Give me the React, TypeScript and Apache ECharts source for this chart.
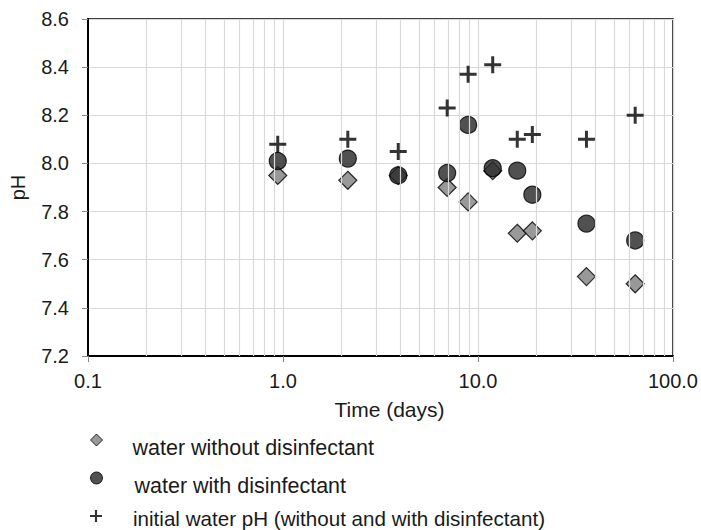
import React, { useEffect, useRef } from "react";
import * as echarts from "echarts";

const days = [0.94, 2.15, 3.9, 6.95, 8.9, 11.9, 15.9, 19, 36, 64];
const withoutDisinfectant = [7.95, 7.93, 7.95, 7.9, 7.84, 7.97, 7.71, 7.72, 7.53, 7.5];
const withDisinfectant = [8.01, 8.02, 7.95, 7.96, 8.16, 7.98, 7.97, 7.87, 7.75, 7.68];
const initialPH = [8.08, 8.1, 8.05, 8.23, 8.37, 8.41, 8.1, 8.12, 8.1, 8.2];
const minorGridX = [0.2, 0.3, 0.4, 0.5, 0.6, 0.7, 0.8, 0.9, 2, 3, 4, 5, 6, 7, 8, 9, 20, 30, 40, 50, 60, 70, 80, 90];
const seriesNames = [
  "water without disinfectant",
  "water with disinfectant",
  "initial water pH (without and with disinfectant)",
];

const FONT = "Liberation Sans, Arial, sans-serif";
const PLUS = "path://M7,0H10V7H17V10H10V17H7V10H0V7H7Z";

const pairs = (ys: number[]) => days.map((d, i) => [d, ys[i]]);

const legendBase = {
  orient: "vertical",
  left: 85,
  height: 140,
  itemWidth: 12,
  itemHeight: 12,
  itemGap: 1,
  selectedMode: false,
};

export default function App() {
  const ref = useRef<HTMLDivElement>(null);
  useEffect(() => {
    if (!ref.current) return;
    const chart = echarts.init(ref.current, null, { renderer: "svg" });
    chart.setOption({
      animation: false,
      backgroundColor: "#fff",
      textStyle: { fontFamily: FONT },
      grid: {
        left: 87,
        right: 28,
        top: 19,
        bottom: 174,
        show: true,
        borderColor: "#000",
        borderWidth: 1.5,
        containLabel: false,
      },
      xAxis: {
        type: "log",
        logBase: 10,
        min: 0.1,
        max: 100,
        name: "Time (days)",
        nameLocation: "middle",
        nameGap: 43,
        nameTextStyle: { fontSize: 21, color: "#1a1a1a", fontFamily: FONT, padding: [0, 0, 0, 18] },
        axisLine: { show: true, lineStyle: { color: "#000", width: 2 } },
        axisTick: { show: true, length: 6, lineStyle: { color: "#888" } },
        axisLabel: {
          fontSize: 20,
          color: "#1a1a1a",
          margin: 15,
          formatter: (v: number) => v.toFixed(1),
        },
        splitLine: { show: true, lineStyle: { color: "#d9d9d9", width: 1.2 } },
      },
      yAxis: {
        type: "value",
        min: 7.2,
        max: 8.6,
        interval: 0.2,
        name: "pH",
        nameLocation: "middle",
        nameGap: 60,
        nameTextStyle: { fontSize: 20, color: "#1a1a1a", fontFamily: FONT },
        axisLine: { show: true, lineStyle: { color: "#000", width: 2 } },
        axisTick: { show: true, length: 6, lineStyle: { color: "#888" } },
        axisLabel: {
          fontSize: 20,
          color: "#1a1a1a",
          margin: 19,
          formatter: (v: number) => v.toFixed(1),
        },
        splitLine: { show: true, lineStyle: { color: "#d9d9d9", width: 1.2 } },
      },
      legend: [
        {
          ...legendBase,
          top: 417,
          formatter: (name: string) => "{g| }\n{t|" + name + "}",
          textStyle: {
            fontSize: 21,
            color: "#1a1a1a",
            fontFamily: FONT,
            rich: {
              g: { height: 16, lineHeight: 16, fontSize: 4 },
              t: { fontSize: 21.5, lineHeight: 20, color: "#1a1a1a", fontFamily: FONT },
            },
          },
          data: [
            {
              name: seriesNames[0],
              icon: "diamond",
              itemStyle: { color: "#808080", borderColor: "#000", borderWidth: 1 },
              textStyle: { padding: [0, 0, 0, 25] },
            },
            {
              name: seriesNames[1],
              icon: "circle",
              itemStyle: { color: "#262626", borderColor: "#000", borderWidth: 1 },
              textStyle: { padding: [0, 0, 0, 27] },
            },
          ],
        },
        {
          ...legendBase,
          top: 499,
          formatter: (name: string) => "{g| }\n{t|" + name + "}",
          textStyle: {
            fontSize: 21,
            color: "#1a1a1a",
            fontFamily: FONT,
            rich: {
              g: { height: 4, lineHeight: 4, fontSize: 4 },
              t: { fontSize: 20.6, lineHeight: 20, color: "#1a1a1a", fontFamily: FONT },
            },
          },
          data: [
            {
              name: seriesNames[2],
              icon: PLUS,
              itemStyle: { color: "#000" },
              textStyle: { padding: [0, 0, 0, 26] },
            },
          ],
        },
      ],
      series: [
        {
          type: "scatter",
          name: "minor-grid",
          data: [],
          z: 1,
          silent: true,
          markLine: {
            silent: true,
            symbol: "none",
            label: { show: false },
            lineStyle: { color: "#d9d9d9", width: 1.2, type: "solid" },
            data: minorGridX.map((x) => ({ xAxis: x })),
          },
        },
        {
          type: "scatter",
          name: seriesNames[0],
          symbol: "diamond",
          symbolSize: 18,
          z: 3,
          itemStyle: { color: "#808080", borderColor: "#000", borderWidth: 1.2 },
          data: pairs(withoutDisinfectant),
        },
        {
          type: "scatter",
          name: seriesNames[1],
          symbol: "circle",
          symbolSize: 17,
          z: 4,
          itemStyle: { color: "#262626", borderColor: "#000", borderWidth: 1.2 },
          data: pairs(withDisinfectant),
        },
        {
          type: "scatter",
          name: seriesNames[2],
          symbol: PLUS,
          symbolSize: 17,
          z: 5,
          itemStyle: { color: "#000" },
          data: pairs(initialPH),
        },
      ],
    });
    return () => chart.dispose();
  }, []);
  return <div ref={ref} style={{ position: "fixed", left: 0, top: 0, width: 701, height: 530 }} />;
}
